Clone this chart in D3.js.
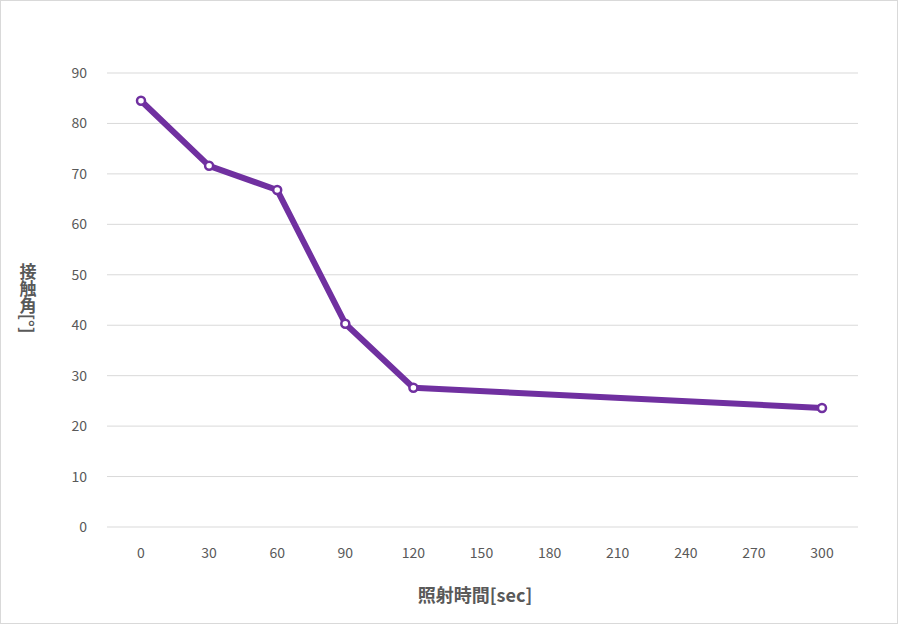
<!DOCTYPE html>
<html><head><meta charset="utf-8">
<script src="https://cdn.jsdelivr.net/npm/d3@7"></script>
<style>body{margin:0;background:#fff}text{font-family:"Noto Sans CJK JP","Noto Sans",sans-serif}</style>
</head><body><svg id="c" width="898" height="624"></svg>
<script>
var times = [0, 30, 60, 90, 120, 300];
var angles = [84.5, 71.6, 66.8, 40.3, 27.6, 23.6];
var xTicks = [0, 30, 60, 90, 120, 150, 180, 210, 240, 270, 300];
var yTicks = [0, 10, 20, 30, 40, 50, 60, 70, 80, 90];

var svg = d3.select("#c");
svg.append("rect").attr("x", 0.5).attr("y", 0.5).attr("width", 897).attr("height", 623)
    .attr("fill", "#fff").attr("stroke", "#d9d9d9");

var x = d3.scaleLinear().domain([0, 300]).range([141, 822]);
var y = d3.scaleLinear().domain([0, 90]).range([527, 73]);

//grid
svg.selectAll(".grid").data(yTicks).enter().append("line")
    .attr("x1", 107).attr("x2", 858)
    .attr("y1", function(d){return y(d);}).attr("y2", function(d){return y(d);})
    .attr("stroke", "#d9d9d9").attr("stroke-width", 1);

//y labels
svg.selectAll(".yl").data(yTicks).enter().append("text")
    .attr("x", 87).attr("y", function(d){return y(d) + 5;})
    .attr("text-anchor", "end").attr("font-size", 14).attr("fill", "#595959")
    .text(function(d){return d;});

//x labels
svg.selectAll(".xl").data(xTicks).enter().append("text")
    .attr("x", function(d){return x(d);}).attr("y", 558)
    .attr("text-anchor", "middle").attr("font-size", 14).attr("fill", "#595959")
    .text(function(d){return d;});

//axis titles
svg.append("text").attr("x", 475).attr("y", 602).attr("text-anchor", "middle")
    .attr("font-size", 18).attr("font-weight", "bold").attr("fill", "#595959").text("照射時間[sec]");
svg.append("text").attr("transform", "translate(28,298)")
    .attr("font-size", 17).attr("font-weight", "bold").attr("fill", "#595959")
    .style("writing-mode", "vertical-rl").attr("text-anchor", "middle").text("接触角[°]");

var pts = times.map(function(t, i){return {x: t, y: angles[i]};});
var line = d3.line().x(function(d){return x(d.x);}).y(function(d){return y(d.y);});
svg.append("path").datum(pts).attr("d", line).attr("fill", "none")
    .attr("stroke", "#7030a0").attr("stroke-width", 6).attr("stroke-linejoin", "round");
svg.selectAll(".dot").data(pts).enter().append("circle")
    .attr("cx", function(d){return x(d.x);}).attr("cy", function(d){return y(d.y);})
    .attr("r", 4).attr("fill", "#fff").attr("stroke", "#7030a0").attr("stroke-width", 2.5);
</script></body></html>
